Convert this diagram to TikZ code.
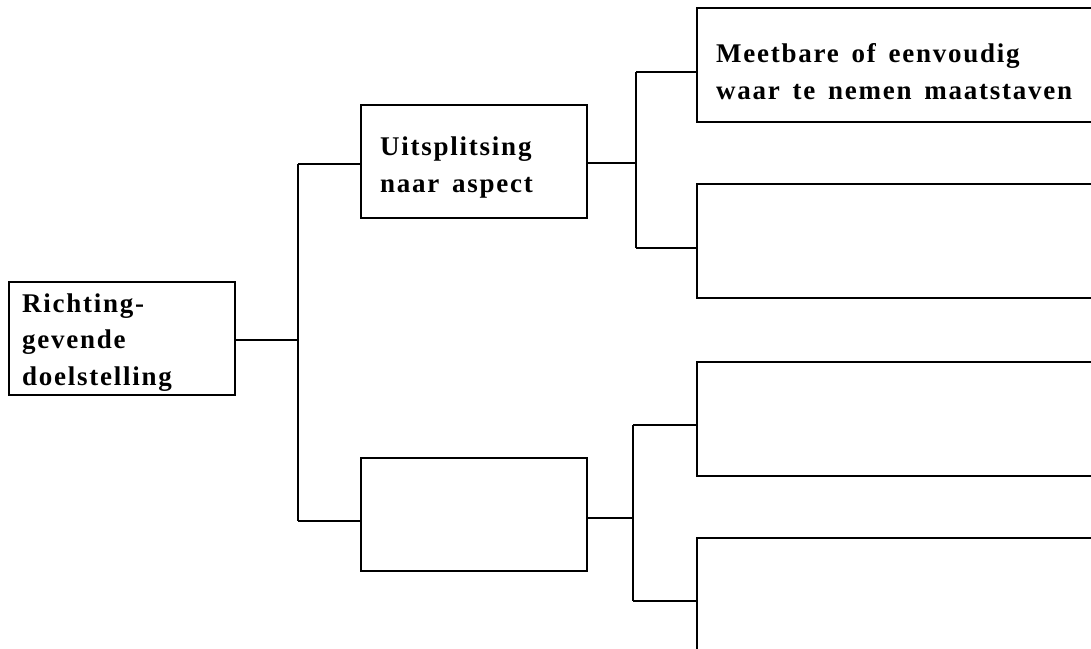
\documentclass[tikz,border=0pt]{standalone}
\usepackage{fontspec}
\newfontfamily\boxfont{Liberation Serif}[LetterSpace=6.5, WordSpace=1.5]
\tikzset{
  box/.style={draw, line width=1.5pt, inner sep=0pt, anchor=north west,
    minimum width=226pt, minimum height=113pt},
  wide/.style={box, minimum width=500pt, minimum height=114pt},
  tekst/.style={inner sep=0pt, anchor=north west, align=left,
    font=\boxfont\bfseries\fontsize{27}{36.5}\selectfont},
  lijn/.style={line width=1.5pt}
}
\begin{document}
\begin{tikzpicture}[x=1pt, y=-1pt]
        \useasboundingbox (0,0) rectangle (1091,648);
        \clip (0,0) rectangle (1091,648);

        % boxes
        \node[box] (doel) at (8,281) {};
        \node[box] (aspect) at (360,104) {};
        \node[box] (leeg) at (360,457) {};
        \foreach \n/\y in {maat/7, r2/183, r3/361, r4/537}
            {
                \node[wide] (\n) at (696,\y) {};
            }

        % texts
        \node[tekst] (doeltxt) at (22,293.5) {Richting-\\gevende\\doelstelling};
        \node[tekst] (aspecttxt) at (380,137) {Uitsplitsing\\naar aspect};
        \node[tekst] (maattxt) at (716,43.5) {Meetbare of eenvoudig\\waar te nemen maatstaven};

        % first split
        \coordinate (t0) at (298,340);
        \coordinate (t1) at (298,164);
        \coordinate (t2) at (298,521);
        \draw[lijn] (t0 -| doel.east) -- (t0);
        \draw[lijn] (t1) -- (t2);
        \draw[lijn] (t1) -- (t1 -| aspect.west);
        \draw[lijn] (t2) -- (t2 -| leeg.west);

        % upper split
        \coordinate (u0) at (636,163);
        \coordinate (u1) at (636,72);
        \coordinate (u2) at (636,248);
        \draw[lijn] (u0 -| aspect.east) -- (u0);
        \draw[lijn] (u1) -- (u2);
        \draw[lijn] (u1) -- (u1 -| maat.west);
        \draw[lijn] (u2) -- (u2 -| r2.west);

        % lower split
        \coordinate (l0) at (633,518);
        \coordinate (l1) at (633,425);
        \coordinate (l2) at (633,601);
        \draw[lijn] (l0 -| leeg.east) -- (l0);
        \draw[lijn] (l1) -- (l2);
        \draw[lijn] (l1) -- (l1 -| r3.west);
        \draw[lijn] (l2) -- (l2 -| r4.west);
    \end{tikzpicture}
\end{document}
